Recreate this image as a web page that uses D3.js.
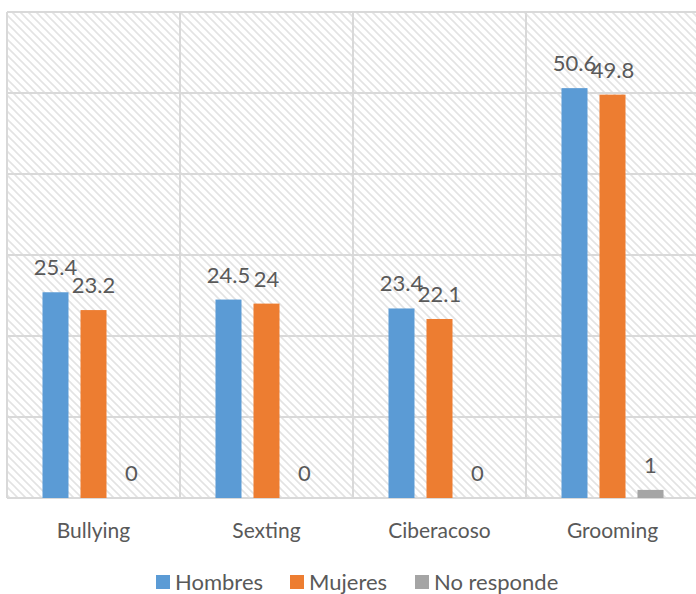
<!DOCTYPE html>
<html><head><meta charset="utf-8">
<script src="https://cdn.jsdelivr.net/npm/d3@7"></script>
<style>body{margin:0;background:#fff}svg{display:block}text{font-family:Lato,"Open Sans",sans-serif;fill:#595959}</style>
</head><body><div id="chart"></div>
<script>
const categories = ["Bullying","Sexting","Ciberacoso","Grooming"];
const series = ["Hombres","Mujeres","No responde"];
const hombres = [25.4,24.5,23.4,50.6];
const mujeres = [23.2,24,22.1,49.8];
const noResponde = [0,0,0,1];
const yTicks = [0,10,20,30,40,50,60];
const colors = ["#5B9BD5","#ED7D31","#A5A5A5"];
const values = [hombres, mujeres, noResponde];

const W=696,H=594;
const svg=d3.select("#chart").append("svg").attr("width",W).attr("height",H);
const defs=svg.append("defs");
const pat=defs.append("pattern").attr("id","hatch").attr("patternUnits","userSpaceOnUse").attr("width",8).attr("height",8);
pat.append("path").attr("d","M0,0L8,8M-2,6L2,10M6,-2L10,2").attr("stroke","#e3e3e3").attr("stroke-width",1.6).attr("fill","none");

const pLeft=7,pRight=699,pTop=12,pBottom=498;
const x0=d3.scaleBand().domain(categories).range([pLeft,pRight]);
const x1=d3.scaleBand().domain(series).range([0,x0.bandwidth()]).paddingInner(12/38).paddingOuter(0.934);
const y=d3.scaleLinear().domain([0,60]).range([pBottom,pTop]);

svg.append("rect").attr("x",pLeft).attr("y",pTop).attr("width",pRight-pLeft).attr("height",pBottom-pTop).attr("fill","url(#hatch)");
svg.append("g").selectAll("line").data(yTicks).join("line")
  .attr("x1",pLeft).attr("x2",pRight).attr("y1",d=>y(d)).attr("y2",d=>y(d))
  .attr("stroke","#d9d9d9").attr("stroke-width",2);
const vx=categories.map(c=>x0(c)).concat([pRight]);
svg.append("g").selectAll("line").data(vx).join("line")
  .attr("x1",d=>d).attr("x2",d=>d).attr("y1",pTop).attr("y2",pBottom)
  .attr("stroke","#d9d9d9").attr("stroke-width",2);

const g=svg.append("g");
series.forEach((s,si)=>{
  const vals=values[si];
  g.append("g").selectAll("rect").data(categories).join("rect")
    .attr("x",(c)=>x0(c)+x1(s)).attr("width",x1.bandwidth())
    .attr("y",(c,i)=>y(vals[i])).attr("height",(c,i)=>pBottom-y(vals[i]))
    .attr("fill",colors[si]);
  g.append("g").selectAll("text").data(categories).join("text")
    .attr("x",(c)=>x0(c)+x1(s)+x1.bandwidth()/2)
    .attr("y",(c,i)=>y(vals[i])-17)
    .attr("text-anchor","middle").attr("font-size",22)
    .text((c,i)=>vals[i]);
});

svg.append("g").selectAll("text").data(categories).join("text")
  .attr("x",c=>x0(c)+x0.bandwidth()/2).attr("y",538)
  .attr("text-anchor","middle").attr("font-size",21).text(c=>c);

const legX=[156,290,415];
const lg=svg.append("g");
series.forEach((s,i)=>{
  lg.append("rect").attr("x",legX[i]).attr("y",575).attr("width",14).attr("height",14).attr("fill",colors[i]);
  lg.append("text").attr("x",legX[i]+19).attr("y",590).attr("font-size",22).text(s);
});
</script></body></html>
